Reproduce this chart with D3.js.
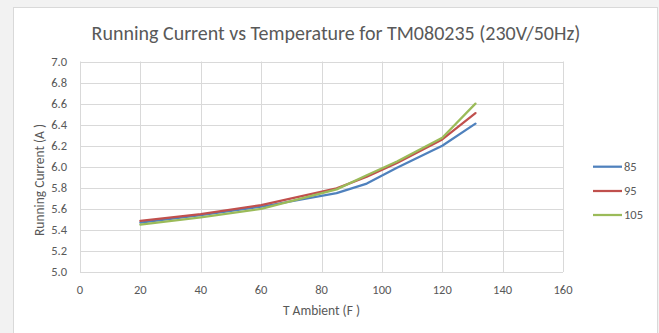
<!DOCTYPE html>
<html><head><meta charset="utf-8">
<script src="https://cdn.jsdelivr.net/npm/d3@7"></script>
<style>
html,body{margin:0;padding:0;background:#fff;}
svg text{font-family:Carlito,Calibri,"Open Sans",sans-serif;}
</style></head>
<body><svg id="c" width="659" height="333"></svg>
<script>
const temps = [20, 40, 60, 85, 95, 105, 120, 131];
const s85 = [5.47, 5.54, 5.62, 5.75, 5.84, 5.99, 6.20, 6.41];
const s95 = [5.485, 5.55, 5.635, 5.795, 5.905, 6.035, 6.26, 6.51];
const s105 = [5.45, 5.52, 5.60, 5.785, 5.92, 6.05, 6.275, 6.60];
const seriesNames = ["85", "95", "105"];
const seriesColors = ["#4F81BD", "#C0504D", "#9BBB59"];
const xTicks = [0, 20, 40, 60, 80, 100, 120, 140, 160];
const yTicks = [5.0, 5.2, 5.4, 5.6, 5.8, 6.0, 6.2, 6.4, 6.6, 6.8, 7.0];
const title = "Running Current vs Temperature for TM080235 (230V/50Hz)";
const xTitle = "T Ambient (F )";
const yTitle = "Running Current (A )";

const svg = d3.select("#c");
svg.append("rect").attr("x",0).attr("y",0).attr("width",659).attr("height",333).attr("fill","#f2f2f2");
svg.append("rect").attr("x",13.5).attr("y",7.5).attr("width",644).attr("height",340).attr("fill","#fff").attr("stroke","#d9d9d9");

const x = d3.scaleLinear().domain([0,160]).range([80,563]);
const y = d3.scaleLinear().domain([5,7]).range([272,61.5]);

const g = svg.append("g");
g.selectAll("line.h").data(yTicks).join("line")
  .attr("x1",x(0)).attr("x2",x(160)).attr("y1",d=>Math.round(y(d))+0.5).attr("y2",d=>Math.round(y(d))+0.5)
  .attr("stroke","#d9d9d9").attr("stroke-width",1);
g.selectAll("line.v").data(xTicks).join("line")
  .attr("y1",y(5)).attr("y2",y(7)).attr("x1",d=>Math.round(x(d))+0.5).attr("x2",d=>Math.round(x(d))+0.5)
  .attr("stroke","#d9d9d9").attr("stroke-width",1);

g.selectAll("text.yt").data(yTicks).join("text")
  .attr("x",67).attr("y",d=>y(d)).attr("dy","0.35em").attr("text-anchor","end")
  .attr("font-size",12.5).attr("fill","#595959").text(d=>d.toFixed(1));
g.selectAll("text.xt").data(xTicks).join("text")
  .attr("x",d=>x(d)).attr("y",290).attr("dy","0.35em").attr("text-anchor","middle")
  .attr("font-size",12.5).attr("fill","#595959").text(d=>d);

svg.append("text").attr("x",336).attr("y",33).attr("dy","0.35em").attr("text-anchor","middle")
  .attr("font-size",20).attr("fill","#595959").text(title);
svg.append("text").attr("x",321.5).attr("y",310).attr("dy","0.35em").attr("text-anchor","middle")
  .attr("font-size",13.5).attr("fill","#595959").text(xTitle);
svg.append("text").attr("transform","translate(39,180) rotate(-90)").attr("dy","0.35em").attr("text-anchor","middle")
  .attr("font-size",13.5).attr("fill","#595959").text(yTitle);

const allSeries = [s85, s95, s105];
const line = d3.line().x(d=>x(d[0])).y(d=>y(d[1]));
allSeries.forEach((s,i)=>{
  svg.append("path").datum(temps.map((t,j)=>[t,s[j]]))
    .attr("d",line).attr("fill","none").attr("stroke",seriesColors[i])
    .attr("stroke-width",2.25).attr("stroke-linejoin","round").attr("stroke-linecap","round");
});

const legY = [166.7, 191, 215];
seriesNames.forEach((n,i)=>{
  svg.append("line").attr("x1",593).attr("x2",622).attr("y1",legY[i]).attr("y2",legY[i])
    .attr("stroke",seriesColors[i]).attr("stroke-width",2.25);
  svg.append("text").attr("x",624).attr("y",legY[i]).attr("dy","0.35em")
    .attr("font-size",12.5).attr("fill","#595959").text(n);
});
</script></body></html>
